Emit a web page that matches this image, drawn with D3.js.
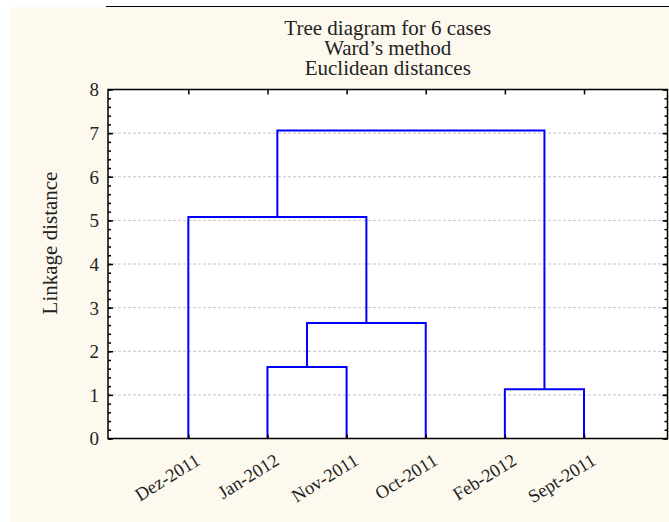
<!DOCTYPE html>
<html>
<head>
<meta charset="utf-8">
<script src="https://cdn.jsdelivr.net/npm/d3@7"></script>
<style>
  body { margin: 0; background: #ffffff; }
  svg { display: block; }
  svg text { font-family: "Liberation Serif", "Times New Roman", Times, "DejaVu Serif", serif !important; }
</style>
</head>
<body>
<svg id="chart" width="669" height="522"></svg>
<script>
// leaves in the order they are drawn along the x axis
const leaves = ["Dez-2011", "Jan-2012", "Nov-2011", "Oct-2011", "Feb-2012", "Sept-2011"];

// merge steps: left member, right member, linkage distance
const mergeIds    = ["A", "B", "C", "D", "E"];
const mergeLeft   = ["Feb-2012", "Jan-2012", "B", "Dez-2011", "D"];
const mergeRight  = ["Sept-2011", "Nov-2011", "Oct-2011", "C", "A"];
const mergeHeight = [1.13, 1.64, 2.65, 5.08, 7.06];

const titleLines = ["Tree diagram for 6 cases", "Ward\u2019s method", "Euclidean distances"];
const yTicks = [0, 1, 2, 3, 4, 5, 6, 7, 8];

const svg = d3.select("#chart");
const plot = { left: 108, top: 89.5, right: 667.5, bottom: 438.5 };
const serif = "'Liberation Serif', 'Times New Roman', Times, 'DejaVu Serif', serif";

// cream panel + top rule
svg.append("rect").attr("x", 10).attr("y", 7).attr("width", 659).attr("height", 515).attr("fill", "#fdf9ef");
svg.append("line").attr("x1", 106).attr("x2", 669).attr("y1", 6.5).attr("y2", 6.5)
    .attr("stroke", "#000").attr("stroke-width", 1.2);

const x = d3.scaleLinear().domain([-0.015, 7.055]).range([plot.left, plot.right]);
const y = d3.scaleLinear().domain([0, 8]).range([plot.bottom, plot.top]);

svg.append("rect")
    .attr("x", plot.left).attr("y", plot.top)
    .attr("width", plot.right - plot.left).attr("height", plot.bottom - plot.top)
    .attr("fill", "#ffffff");

// grid
svg.append("g").selectAll("line")
    .data(yTicks.filter(d => d > 0 && d < 8))
    .join("line")
    .attr("x1", plot.left).attr("x2", plot.right)
    .attr("y1", d => y(d)).attr("y2", d => y(d))
    .attr("stroke", "#c4c4c4").attr("stroke-width", 1).attr("stroke-dasharray", "3,2");

// positions of leaves and clusters
const pos = {};
leaves.forEach((name, i) => { pos[name] = { x: x(i + 1), y: y(0) }; });
mergeIds.forEach((id, i) => {
    const a = pos[mergeLeft[i]], b = pos[mergeRight[i]];
    pos[id] = { x: (a.x + b.x) / 2, y: y(mergeHeight[i]), ax: a, bx: b };
});

svg.append("g").selectAll("path")
    .data(mergeIds)
    .join("path")
    .attr("d", id => {
        const p = pos[id];
        return `M${p.ax.x},${p.ax.y}V${p.y}H${p.bx.x}V${p.bx.y}`;
    })
    .attr("fill", "none")
    .attr("stroke", "#0000ff")
    .attr("stroke-width", 2);

// axes
const minor = d3.range(0, 8.001, 0.2);
const axisStyle = g => {
    g.select(".domain").remove();
    g.selectAll(".tick line").attr("stroke", "#000").attr("stroke-width", 1.5);
};

svg.append("g").attr("transform", `translate(${plot.left},0)`)
    .call(d3.axisLeft(y).tickValues(minor).tickSize(-3).tickFormat(""))
    .call(axisStyle);
svg.append("g").attr("transform", `translate(${plot.right},0)`)
    .call(d3.axisRight(y).tickValues(minor).tickSize(-3).tickFormat(""))
    .call(axisStyle);

svg.append("g").attr("transform", `translate(${plot.left},0)`)
    .call(d3.axisLeft(y).tickValues(yTicks).tickSize(-5).tickPadding(9).tickFormat(d3.format("d")))
    .call(axisStyle)
    .attr("font-family", serif)
    .call(g => g.selectAll("text").attr("font-size", 19).attr("fill", "#222").attr("dy", "0.34em"));
svg.append("g").attr("transform", `translate(${plot.right},0)`)
    .call(d3.axisRight(y).tickValues(yTicks).tickSize(-5).tickFormat(""))
    .call(axisStyle);

const leafIdx = leaves.map((d, i) => i + 1);
svg.append("g").attr("transform", `translate(0,${plot.top})`)
    .call(d3.axisTop(x).tickValues(leafIdx).tickSize(-5).tickFormat(""))
    .call(axisStyle);
svg.append("g").attr("transform", `translate(0,${plot.bottom})`)
    .call(d3.axisBottom(x).tickValues(leafIdx).tickSize(-4).tickFormat(""))
    .call(axisStyle);

// frame
svg.append("rect")
    .attr("x", plot.left).attr("y", plot.top)
    .attr("width", plot.right - plot.left).attr("height", plot.bottom - plot.top)
    .attr("fill", "none").attr("stroke", "#000").attr("stroke-width", 1.5);

// x labels
svg.append("g").selectAll("text")
    .data(leaves)
    .join("text")
    .attr("transform", (d, i) => `translate(${x(i + 1) + 13},${plot.bottom + 25}) rotate(-32)`)
    .attr("text-anchor", "end")
    .attr("font-family", serif)
    .attr("font-size", 18.5)
    .attr("fill", "#222")
    .text(d => d);

// y label
svg.append("text")
    .attr("transform", `translate(57,243) rotate(-90)`)
    .attr("text-anchor", "middle")
    .attr("font-family", serif)
    .attr("font-size", 21)
    .attr("fill", "#222")
    .text("Linkage distance");

// title
svg.append("g").selectAll("text")
    .data(titleLines)
    .join("text")
    .attr("x", (plot.left + plot.right) / 2)
    .attr("y", (d, i) => 35 + i * 20)
    .attr("text-anchor", "middle")
    .attr("font-family", serif)
    .attr("font-size", 21)
    .attr("fill", "#222")
    .text(d => d);
</script>
</body>
</html>
